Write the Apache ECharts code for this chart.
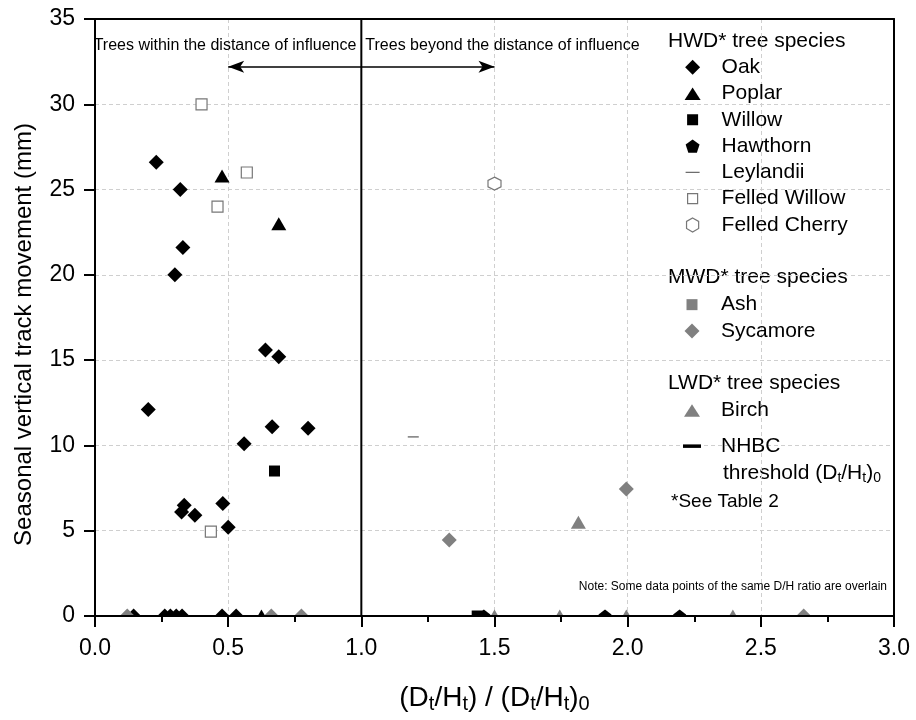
<!DOCTYPE html>
<html><head><meta charset="utf-8">
<script src="https://cdn.jsdelivr.net/npm/echarts@6/dist/echarts.min.js"></script>
<style>html,body{margin:0;padding:0;background:#fff}#c{width:916px;height:720px}</style>
</head><body><div id="c"></div>
<script>
const FONT = '"Liberation Sans", Arial, Helvetica, sans-serif';

// axis ranges / tick steps
const xRange = [0, 3];
const xStep = 0.5;
const yRange = [0, 35];
const yStep = 5;

// HWD species  [ratio, movement mm]
const oak = [[0.23,26.6],[0.32,25.0],[0.33,21.6],[0.30,20.0],[0.20,12.1],[0.64,15.6],[0.69,15.2],
  [0.665,11.1],[0.80,11.0],[0.56,10.1],[0.48,6.6],[0.335,6.5],[0.325,6.1],[0.375,5.9],[0.50,5.2],
  [0.145,0],[0.262,0],[0.283,0],[0.305,0],[0.327,0],[0.477,0],[0.53,0]];
const poplar = [[0.477,25.8],[0.69,23.0],[0.625,0]];
const willow = [[0.674,8.5],[1.435,0]];
const hawthorn = [[1.46,0],[1.915,0],[2.195,0]];
const leylandii = [[1.195,10.5]];
const felledWillow = [[0.40,30.0],[0.57,26.0],[0.46,24.0],[0.435,4.95]];
const felledCherry = [[1.50,25.35]];
// MWD species
const ash = [];
const sycamore = [[1.33,4.45],[1.995,7.45],[0.121,0],[0.662,0],[0.775,0],[2.661,0]];
// LWD species
const birch = [[1.815,5.5],[1.5,0],[1.745,0],[1.995,0],[2.395,0]];

// NHBC threshold and annotation positions (data units)
const threshold = 1.0;
const arrowSpan = [0.5, 1.5];
const arrowY = 32.2;
const zoneTextY = 33.47;
const noteAnchor = [3.0, 1.7];

const BLACK = '#000', GRAY = '#808080', OPEN = '#777';
const PENT = 'path://M50,0L97.55,34.55L79.39,90.45L20.61,90.45L2.45,34.55Z';
const HEX = 'path://M50,0L93.3,25L93.3,75L50,100L6.7,75L6.7,25Z';
const ICON = {
  diamond: 'path://M0,0M48,15M24,0L31.5,7.5L24,15L16.5,7.5Z',
  triangle: 'path://M0,0M48,15M24,1.5L32,14L16,14Z',
  square: 'path://M0,0M48,15M18.5,2H29.5V13H18.5Z',
  pentagon: 'path://M0,0M48,15M24,0.9L30.94,5.94L28.29,14.1L19.71,14.1L17.06,5.94Z',
  dash: 'path://M0,0M48,15M17,6.9H31V8.1H17Z',
  openSquare: 'path://M0,0M48,15M19,2.5H29V12.5H19Z',
  hexagon: 'path://M0,0M48,15M24,0.5L30.06,4L30.06,11L24,14.5L17.94,11L17.94,4Z',
  bar: 'path://M0,0M48,15M15,5.75H33V9.25H15Z'
};

function sc(name, data, symbol, size, color, border) {
  const s = { name, type: 'scatter', data, symbol, symbolSize: size,
    itemStyle: { color, opacity: 1 }, emphasis: { disabled: true } };
  if (border) { s.itemStyle.borderColor = border; s.itemStyle.borderWidth = 1.2; }
  return s;
}

function subRich(F, S, D) {
  const P = D + (F + 2) / 2 - S / 2;
  return {
    m: { fontSize: F, lineHeight: F + 2, verticalAlign: 'top', fontFamily: FONT, color: '#000' },
    s: { fontSize: S, lineHeight: S, padding: [P, 0, 0, 0], verticalAlign: 'bottom', fontFamily: FONT, color: '#000' }
  };
}

const legendBase = { orient: 'vertical', left: 668, itemWidth: 48, itemHeight: 15, itemGap: 0, padding: 0,
  selectedMode: false, textStyle: { fontSize: 21, lineHeight: 26.3, color: '#000', fontFamily: FONT } };

const frameLine = { show: true, onZero: false, lineStyle: { color: '#000', width: 2 } };
const dashed = { show: true, lineStyle: { color: '#cfcfcf', width: 1, type: [4, 3] } };
const arrowEnd = { symbol: 'arrow', symbolSize: [9, 16] };

const chart = echarts.init(document.getElementById('c'), null, { renderer: 'canvas' });
const option = {
  animation: false,
  backgroundColor: '#fff',
  textStyle: { fontFamily: FONT },
  grid: { left: 95, right: 22, top: 19, bottom: 104, show: false, containLabel: false, outerBoundsMode: 'none' },
  xAxis: [
    { type: 'value', min: xRange[0], max: xRange[1], interval: xStep, position: 'bottom',
      axisLine: { show: false }, axisTick: { show: false }, axisLabel: { show: false }, splitLine: dashed },
    { type: 'value', min: xRange[0], max: xRange[1], interval: xStep, position: 'bottom', z: 10,
      axisLine: frameLine,
      axisTick: { show: true, inside: false, length: 11, lineStyle: { color: '#000', width: 2 } },
      minorTick: { show: true, splitNumber: 2, length: 6, lineStyle: { color: '#000', width: 2 } },
      axisLabel: { show: true, margin: 21, fontSize: 23, color: '#000', fontFamily: FONT, formatter: v => v.toFixed(1) },
      splitLine: { show: false },
      name: '{m|(D}{s|t}{m|/H}{s|t}{m|) / (D}{s|t}{m|/H}{s|t}{m|)}{s|0}',
      nameLocation: 'middle', nameGap: 68,
      nameTextStyle: { rich: subRich(28, 20, 9.5) } },
    { type: 'value', min: xRange[0], max: xRange[1], interval: xStep, position: 'top', z: 10,
      axisLine: frameLine, axisTick: { show: false }, axisLabel: { show: false }, splitLine: { show: false } }
  ],
  yAxis: [
    { type: 'value', min: yRange[0], max: yRange[1], interval: yStep, position: 'left', z: 10,
      axisLine: frameLine,
      axisTick: { show: true, inside: false, length: 11, lineStyle: { color: '#000', width: 2 } },
      axisLabel: { margin: 20, fontSize: 23, color: '#000', fontFamily: FONT },
      splitLine: { show: false },
      name: 'Seasonal vertical track movement (mm)', nameLocation: 'middle', nameGap: 59,
      nameTextStyle: { fontSize: 24, color: '#000', fontFamily: FONT, padding: [0, 34, 0, 0] } },
    { type: 'value', min: yRange[0], max: yRange[1], interval: yStep, position: 'left',
      axisLine: { show: false }, axisTick: { show: false }, axisLabel: { show: false }, splitLine: dashed },
    { type: 'value', min: yRange[0], max: yRange[1], interval: yStep, position: 'right', z: 10,
      axisLine: frameLine, axisTick: { show: false }, axisLabel: { show: false }, splitLine: { show: false } }
  ],
  legend: [
    Object.assign({}, legendBase, { top: 54, data: [
      { name: 'Oak', icon: ICON.diamond },
      { name: 'Poplar', icon: ICON.triangle },
      { name: 'Willow', icon: ICON.square },
      { name: 'Hawthorn', icon: ICON.pentagon },
      { name: 'Leylandii', icon: ICON.dash },
      { name: 'Felled Willow', icon: ICON.openSquare, itemStyle: { color: '#fff', borderColor: OPEN, borderWidth: 1.2 } },
      { name: 'Felled Cherry', icon: ICON.hexagon, itemStyle: { color: '#fff', borderColor: OPEN, borderWidth: 1.2 } }
    ] }),
    Object.assign({}, legendBase, { top: 291.5, data: [
      { name: 'Ash', icon: ICON.square },
      { name: 'Sycamore', icon: ICON.diamond }
    ] }),
    Object.assign({}, legendBase, { top: 397, data: [ { name: 'Birch', icon: ICON.triangle } ] }),
    Object.assign({}, legendBase, { top: 433, formatter: () => 'NHBC',
      data: [ { name: 'NHBC threshold', icon: ICON.bar, itemStyle: { color: '#000' } } ] })
  ],
  graphic: [
    { type: 'text', x: 668, y: 41, style: { text: 'HWD* tree species', font: '21px ' + FONT, fill: '#000', verticalAlign: 'middle' } },
    { type: 'text', x: 668, y: 277, style: { text: 'MWD* tree species', font: '21px ' + FONT, fill: '#000', verticalAlign: 'middle' } },
    { type: 'text', x: 668, y: 383, style: { text: 'LWD* tree species', font: '21px ' + FONT, fill: '#000', verticalAlign: 'middle' } },
    { type: 'text', x: 723, y: 474, style: { text: '{m|threshold (D}{s|t}{m|/H}{s|t}{m|)}{s|0}', rich: subRich(21, 14, 8), verticalAlign: 'middle' } },
    { type: 'text', x: 671, y: 502, style: { text: '*See Table 2', font: '19px ' + FONT, fill: '#000', verticalAlign: 'middle' } }
  ],
  series: [
    sc('Oak', oak, 'diamond', 15, BLACK),
    sc('Poplar', poplar, 'triangle', [15, 13], BLACK),
    sc('Willow', willow, 'rect', 11, BLACK),
    sc('Hawthorn', hawthorn, PENT, 13, BLACK),
    sc('Leylandii', leylandii, 'rect', [11, 1.3], '#666'),
    sc('Felled Willow', felledWillow, 'rect', 11, '#fff', OPEN),
    sc('Felled Cherry', felledCherry, HEX, 13, '#fff', OPEN),
    sc('Ash', ash, 'rect', 11, GRAY),
    sc('Sycamore', sycamore, 'diamond', 15, GRAY),
    sc('Birch', birch, 'triangle', [15, 13], GRAY),
    {
      name: 'NHBC threshold', type: 'line', symbol: 'none', z: 3,
      data: [[threshold, yRange[0]], [threshold, yRange[1]]],
      lineStyle: { color: '#000', width: 2 }, itemStyle: { color: '#000' },
      emphasis: { disabled: true },
      markLine: { silent: true, symbol: ['arrow', 'arrow'],
        label: { show: false }, lineStyle: { color: '#000', width: 1.5, type: 'solid' },
        emphasis: { disabled: true },
        data: [[Object.assign({ coord: [arrowSpan[0], arrowY] }, arrowEnd), Object.assign({ coord: [arrowSpan[1], arrowY] }, arrowEnd)]] },
      markPoint: { silent: true, symbol: 'circle', symbolSize: 0, itemStyle: { color: 'rgba(0,0,0,0)' },
        data: [
          { coord: [threshold, zoneTextY], label: { show: true, position: 'left', distance: 5, formatter: 'Trees within the distance of influence', fontSize: 16, color: '#000', fontFamily: FONT } },
          { coord: [threshold, zoneTextY], label: { show: true, position: 'right', distance: 4, formatter: 'Trees beyond the distance of influence', fontSize: 16, color: '#000', fontFamily: FONT } },
          { coord: noteAnchor, label: { show: true, position: 'left', distance: 7, formatter: 'Note: Some data points of the same D/H ratio are overlain', fontSize: 12, color: '#000', fontFamily: FONT } }
        ] }
    }
  ]
};
chart.setOption(option);

// mask the lower halves of markers sitting on the x axis (drawn between series and axis)
const p0 = chart.convertToPixel({ xAxisIndex: 0, yAxisIndex: 0 }, [xRange[0], yRange[0]]);
const p1 = chart.convertToPixel({ xAxisIndex: 0, yAxisIndex: 0 }, [xRange[1], yRange[0]]);
const g = option.graphic.slice();
g.push({ type: 'rect', z: 5, silent: true, shape: { x: p0[0] + 1, y: p0[1] + 1, width: p1[0] - p0[0] - 2, height: 9 }, style: { fill: '#fff' } });
chart.setOption({ graphic: g });
</script></body></html>
